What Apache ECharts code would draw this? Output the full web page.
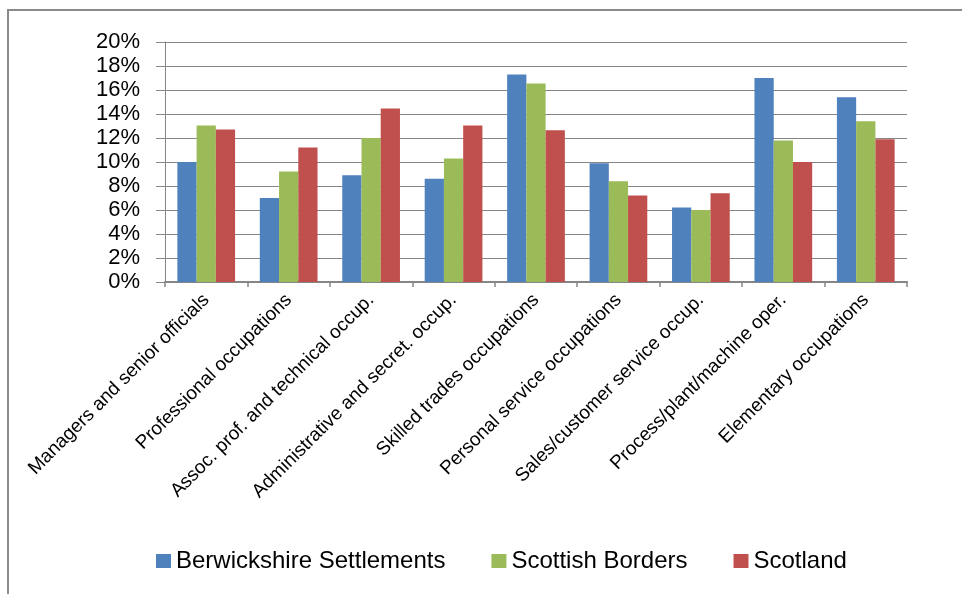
<!DOCTYPE html>
<html>
<head>
<meta charset="utf-8">
<script src="https://cdn.jsdelivr.net/npm/echarts@6/dist/echarts.min.js"></script>
<style>
html,body{margin:0;padding:0;background:#fff;}
#chart{width:962px;height:594px;}
</style>
</head>
<body>
<div id="chart"></div>
<script>
const categories = [
  "Managers and senior officials",
  "Professional occupations",
  "Assoc. prof. and technical occup.",
  "Administrative and secret. occup.",
  "Skilled trades occupations",
  "Personal service occupations",
  "Sales/customer service occup.",
  "Process/plant/machine oper.",
  "Elementary occupations"
];
const seriesNames = ["Berwickshire Settlements", "Scottish Borders", "Scotland"];
const berwickshire = [10.0, 7.0, 8.9, 8.6, 17.3, 9.9, 6.2, 17.0, 15.4];
const scottishBorders = [13.05, 9.2, 12.0, 10.3, 16.55, 8.4, 6.0, 11.8, 13.4];
const scotland = [12.7, 11.2, 14.45, 13.05, 12.65, 7.2, 7.4, 10.0, 11.9];
const yTicks = { min: 0, max: 20, interval: 2 };

const colors = ["#4F81BD", "#9BBB59", "#C0504D"];
const font = "'Liberation Sans', Arial, sans-serif";

const chart = echarts.init(document.getElementById('chart'), null, { renderer: 'canvas' });
chart.setOption({
  animation: false,
  color: colors,
  textStyle: { fontFamily: font, color: '#000' },
  graphic: [{
    type: 'rect',
    shape: { x: 8, y: 10, width: 1200, height: 900 },
    style: { fill: 'none', stroke: '#8a8a8a', lineWidth: 2 },
    silent: true
  }],
  grid: { left: 165, right: 55, top: 42, bottom: 312, containLabel: false },
  legend: {
    data: seriesNames,
    left: 151,
    top: 544,
    itemWidth: 15,
    itemHeight: 14,
    itemGap: 46,
    icon: 'rect',
    textStyle: { fontFamily: font, fontSize: 24, color: '#000' }
  },
  xAxis: {
    type: 'category',
    data: categories,
    axisLine: { lineStyle: { color: '#868686', width: 2 } },
    axisTick: { show: true, length: 5, alignWithLabel: false, lineStyle: { color: '#868686', width: 1.5 } },
    axisLabel: { rotate: 45, margin: 15, interval: 0, fontSize: 19, color: '#000', fontFamily: font }
  },
  yAxis: {
    type: 'value',
    min: yTicks.min,
    max: yTicks.max,
    interval: yTicks.interval,
    axisLine: { show: true, lineStyle: { color: '#868686', width: 1 } },
    axisTick: { show: true, length: 9, lineStyle: { color: '#868686' } },
    axisLabel: { formatter: '{value}%', margin: 25, fontSize: 22, color: '#000', fontFamily: font },
    splitLine: { lineStyle: { color: '#868686', width: 1 } }
  },
  series: [
    { name: seriesNames[0], type: 'bar', data: berwickshire, barGap: '0%', barCategoryGap: '30%' },
    { name: seriesNames[1], type: 'bar', data: scottishBorders, barGap: '0%', barCategoryGap: '30%' },
    { name: seriesNames[2], type: 'bar', data: scotland, barGap: '0%', barCategoryGap: '30%' }
  ]
});
</script>
</body>
</html>
